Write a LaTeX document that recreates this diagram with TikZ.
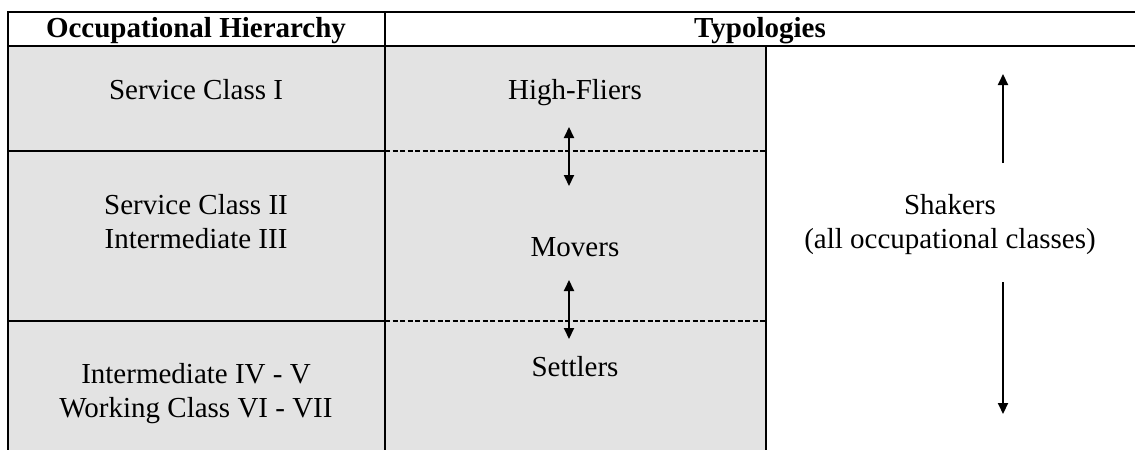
\documentclass[tikz,border=0pt]{standalone}
\usepackage{fontspec}
\setmainfont{Liberation Serif}
\usetikzlibrary{arrows.meta}
\definecolor{cellgray}{HTML}{E3E3E3}
\begin{document}
\begin{tikzpicture}[x=1pt,y=-1pt,
  rule/.style={line width=2pt},
  sep/.style={line width=1.3pt, dash pattern=on 5pt off 2.5pt},
  tip/.tip={Triangle[length=11pt,width=10pt]},
  dbl/.style={line width=2pt,tip-tip},
  sgl/.style={line width=2pt,-tip},
  txt/.style={font=\fontsize{29}{33.4}\selectfont, inner sep=0pt, anchor=base},
  hdr/.style={txt, font=\fontsize{29}{33.4}\selectfont\bfseries}]
\useasboundingbox (0,0) rectangle (1135,450);
% gray fill
\fill[cellgray] (8,47) rectangle (766,450);
% rules
\coordinate (tl) at (7,12);
\coordinate (tr) at (1135,12);
\coordinate (hl) at (7,46);
\coordinate (hr) at (1135,46);
\draw[rule] (tl) -- (tr);
\draw[rule] (hl) -- (hr);
\draw[rule] (7.5,11) -- (7.5,450);
\draw[rule] (385,11) -- (385,450);
\draw[rule] (766,46) -- (766,450);
\draw[rule] (7,151) -- (385,151);
\draw[sep] (385,151) -- (766,151);
\draw[rule] (7,321) -- (385,321);
\draw[sep] (385,321) -- (766,321);
% header
\node[hdr] (h1) at (196,37) {Occupational Hierarchy};
\node[hdr] (h2) at (760,37) {Typologies};
% left column
\node[txt] (sc1) at (196,99) {Service Class I};
\node[txt] (sc2) at (196,214) {Service Class II};
\node[txt] (im3) at (196,248) {Intermediate III};
\node[txt] (im4) at (196,383) {Intermediate IV - V};
\node[txt] (wc) at (196,417) {Working Class VI - VII};
% middle column
\node[txt] (hf) at (575,99) {High-Fliers};
\node[txt] (mv) at (575,256) {Movers};
\node[txt] (st) at (575,376) {Settlers};
% right column
\node[txt] (sh) at (950,214) {Shakers};
\node[txt] (all) at (950,248) {(all occupational classes)};
% arrows
\coordinate (a1t) at (569,127);
\coordinate (a1b) at (569,186);
\coordinate (a2t) at (569,280);
\coordinate (a2b) at (569,339);
\draw[dbl] (a1t) -- (a1b);
\draw[dbl] (a2t) -- (a2b);
\coordinate (u1) at (1003,163);
\coordinate (u2) at (1003,74);
\coordinate (d1) at (1003,282);
\coordinate (d2) at (1003,414);
\draw[sgl] (u1) -- (u2);
\draw[sgl] (d1) -- (d2);
\end{tikzpicture}
\end{document}
